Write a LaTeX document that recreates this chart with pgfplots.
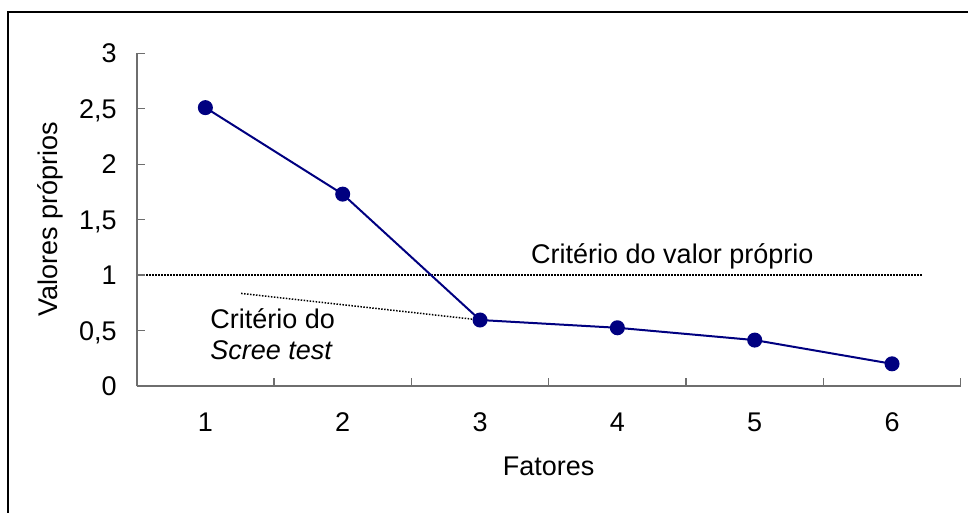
\documentclass[border=0pt]{standalone}
\usepackage{fontspec}
\setmainfont{Liberation Sans}
\usepackage{pgfplots}
\pgfplotsset{compat=1.18}
\definecolor{navy}{RGB}{0,0,128}
\definecolor{axgray}{RGB}{110,110,110}

\begin{document}
\begin{tikzpicture}[font=\fontsize{13.5bp}{16bp}\selectfont]
  \path[use as bounding box] (0,0) rectangle (484bp,256.5bp);
  \draw[line width=1bp] (4bp,-20bp) rectangle (520bp,250.5bp);
  \begin{axis}[
    at={(68.35bp,63.5bp)}, anchor=south west,
    scale only axis,
    width=412bp, height=166.35bp,
    xmin=0.5, xmax=6.5, ymin=0, ymax=3,
    axis x line*=bottom,
    axis y line*=left,
    axis line style={axgray, line width=0.8bp},
    xtick={1,2,3,4,5,6},
    minor xtick={0.5,1.5,2.5,3.5,4.5,5.5,6.5},
    ytick={0,0.5,1,1.5,2,2.5,3},
    tick align=inside,
    major tick length=4bp,
    minor tick length=4bp,
    major x tick style={draw=none},
    minor x tick style={axgray, line width=0.6bp},
    ytick style={axgray, line width=0.6bp},
    /pgf/number format/assume math mode=true,
    /pgf/number format/use comma,
    xticklabel style={anchor=base, yshift=-22.5bp},
    yticklabel style={anchor=base east, inner sep=0pt, xshift=-9.85bp, yshift=-4.8bp},
    xlabel={Fatores},
    ylabel={Valores próprios},
    xlabel style={at={(axis description cs:0.5,-0.2705)}, anchor=base},
    ylabel style={at={(axis description cs:-0.0959,0.5)}, anchor=base},
    clip=false,
  ]
    % critério do valor próprio
    \addplot[black, line width=0.75bp, dash pattern=on 0.75bp off 0.75bp]
      coordinates {(0.57,1) (6.22,1)};
    % scree test
    \addplot[black, line width=0.75bp, dash pattern=on 0.75bp off 0.75bp]
      coordinates {(1.26,0.835) (3,0.595)};
    \addplot[navy, line width=1bp, mark=*, mark size=3.25bp,
             mark options={fill=navy, draw=navy}]
      coordinates {
        (1,2.51)
        (2,1.73)
        (3,0.595)
        (4,0.525)
        (5,0.414)
        (6,0.20)
      };
    \node[anchor=base] at (axis cs:4.40,1.108) {Critério do valor próprio};
    \node[anchor=base west, inner sep=0pt] at (axis cs:1.033,0.52) {Critério do};
    \node[anchor=base west, inner sep=0pt] at (axis cs:1.033,0.24) {\itshape Scree test};
  \end{axis}
\end{tikzpicture}
\end{document}
